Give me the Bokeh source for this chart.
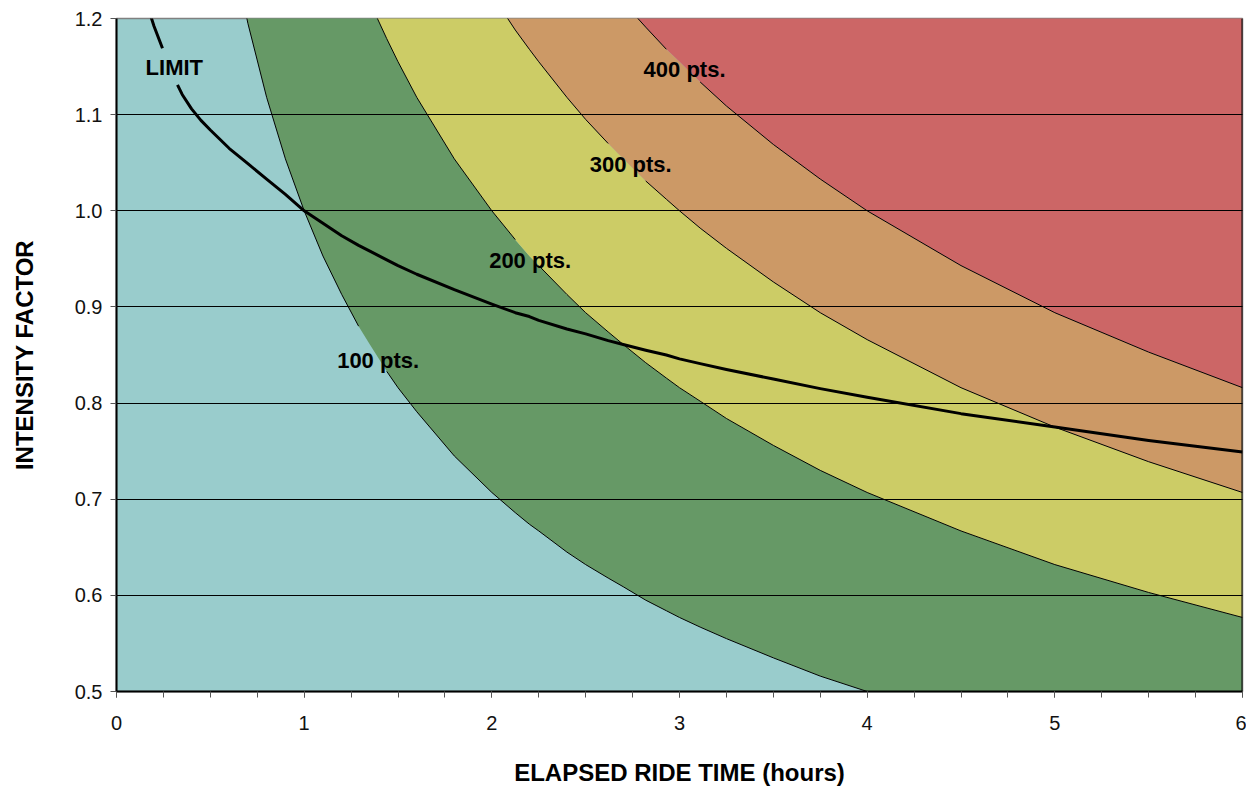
from bokeh.plotting import figure
from bokeh.models import FixedTicker, Span, Range1d
from bokeh.embed import file_html
from bokeh.resources import INLINE
from bokeh.core.properties import value

# ---- data ----
hours = [0.15, 0.2, 0.245, 0.3, 0.325, 0.35, 0.4, 0.45, 0.5, 0.6, 0.7, 0.8, 0.9, 1.0, 1.1, 1.2,
         1.29, 1.35, 1.44, 1.5, 1.6, 1.8, 2.0, 2.125, 2.2, 2.25, 2.4, 2.5, 2.62, 2.7,
         2.82, 2.93, 3.0, 3.11, 3.25, 3.5, 3.75, 4.0, 4.5, 5.0, 5.5, 6.0]

pts100 = [2.582, 2.236, 2.020, 1.826, 1.754, 1.690, 1.581, 1.491, 1.414, 1.291, 1.195, 1.118,
          1.054, 1.000, 0.953, 0.913, 0.880, 0.861, 0.833, 0.816, 0.791, 0.745, 0.707, 0.686,
          0.674, 0.667, 0.645, 0.632, 0.618, 0.609, 0.595, 0.584, 0.577, 0.567, 0.555, 0.535,
          0.516, 0.500, 0.471, 0.447, 0.426, 0.408]

pts200 = [3.651, 3.162, 2.857, 2.582, 2.481, 2.390, 2.236, 2.108, 2.000, 1.826, 1.690, 1.581,
          1.491, 1.414, 1.348, 1.291, 1.245, 1.217, 1.179, 1.155, 1.118, 1.054, 1.000, 0.970,
          0.953, 0.943, 0.913, 0.894, 0.874, 0.861, 0.842, 0.826, 0.816, 0.802, 0.784, 0.756,
          0.730, 0.707, 0.667, 0.632, 0.603, 0.577]

pts300 = [4.472, 3.873, 3.499, 3.162, 3.038, 2.928, 2.739, 2.582, 2.449, 2.236, 2.070, 1.936,
          1.826, 1.732, 1.651, 1.581, 1.525, 1.491, 1.443, 1.414, 1.369, 1.291, 1.225, 1.188,
          1.168, 1.155, 1.118, 1.095, 1.070, 1.054, 1.031, 1.012, 1.000, 0.982, 0.961, 0.926,
          0.894, 0.866, 0.816, 0.775, 0.739, 0.707]

pts400 = [5.164, 4.472, 4.041, 3.651, 3.508, 3.381, 3.162, 2.981, 2.828, 2.582, 2.390, 2.236,
          2.108, 2.000, 1.907, 1.826, 1.761, 1.721, 1.667, 1.633, 1.581, 1.491, 1.414, 1.372,
          1.348, 1.333, 1.291, 1.265, 1.236, 1.217, 1.191, 1.168, 1.155, 1.134, 1.109, 1.069,
          1.033, 1.000, 0.943, 0.894, 0.853, 0.816]

limit = [1.222, 1.192, 1.169, 1.142, 1.131, 1.121, 1.106, 1.094, 1.084, 1.065, 1.049, 1.033,
         1.017, 1.000, 0.987, 0.974, 0.964, 0.958, 0.949, 0.943, 0.934, 0.918, 0.903, 0.894,
         0.890, 0.886, 0.877, 0.872, 0.865, 0.861, 0.855, 0.850, 0.846, 0.841, 0.835, 0.825,
         0.815, 0.806, 0.789, 0.775, 0.761, 0.749]

label_text = ["LIMIT", "100 pts.", "200 pts.", "300 pts.", "400 pts."]
label_x = [0.308, 1.394, 2.204, 2.740, 3.027]
label_y = [1.149, 0.844, 0.948, 1.048, 1.147]

x_ticks = [0, 1, 2, 3, 4, 5, 6]
x_minor = [i * 0.25 for i in range(25)]
y_ticks = [0.5, 0.6, 0.7, 0.8, 0.9, 1.0, 1.1, 1.2]
y_tick_labels = ["0.5", "0.6", "0.7", "0.8", "0.9", "1.0", "1.1", "1.2"]
grid_ticks = [0.6, 0.7, 0.8, 0.9, 1.0, 1.1]

# ---- style ----
FONT = "'Liberation Sans Narrow', 'Arial Narrow', 'Liberation Sans', sans-serif"
TEAL, GREEN, YELLOW, ORANGE, RED = "#99CCCC", "#669966", "#CCCC66", "#CC9966", "#CC6666"

p = figure(frame_width=1126, frame_height=673,
           x_range=Range1d(0, 6), y_range=Range1d(0.5, 1.2),
           output_backend="svg", toolbar_location=None,
           min_border_left=116, min_border_top=18, min_border_bottom=95, min_border_right=4)
p.background_fill_color = TEAL
p.border_fill_color = "white"
p.outline_line_color = "#808080"
p.outline_line_width = 1.5

# bands
p.varea(x=hours, y1=pts100, y2=pts200, fill_color=GREEN)
p.varea(x=hours, y1=pts200, y2=pts300, fill_color=YELLOW)
p.varea(x=hours, y1=pts300, y2=pts400, fill_color=ORANGE)
p.varea(x=hours, y1=pts400, y2=9.0, fill_color=RED)

# grid over the fills
p.xgrid.visible = False
p.ygrid.ticker = FixedTicker(ticks=grid_ticks)
p.ygrid.grid_line_color = "black"
p.ygrid.grid_line_width = 1
p.ygrid.level = "annotation"


def gapped(ys, lo, hi):
    return [float("nan") if lo < h < hi else y for h, y in zip(hours, ys)]


p.line(hours, gapped(pts100, 1.29, 1.44), line_color="black", line_width=1)
p.line(hours, gapped(pts200, 2.125, 2.25), line_color="black", line_width=1)
p.line(hours, gapped(pts300, 2.62, 2.82), line_color="black", line_width=1)
p.line(hours, gapped(pts400, 2.93, 3.11), line_color="black", line_width=1)
p.line(hours, gapped(limit, 0.245, 0.325), line_color="black", line_width=3,
       line_join="round")

p.text(x=label_x, y=label_y, text=label_text, text_align="center", text_baseline="middle",
       text_font=value(FONT), text_font_style="bold", text_font_size="22px", text_color="black")

p.add_layout(Span(location=6, dimension="height", line_color="black", line_width=2))

# axes
xa = p.xaxis[0]
xa.ticker = FixedTicker(ticks=x_ticks, minor_ticks=x_minor)
xa.axis_label = "ELAPSED RIDE TIME (hours)"
ya = p.yaxis[0]
ya.ticker = FixedTicker(ticks=y_ticks)
ya.major_label_overrides = {t: s for t, s in zip(y_ticks, y_tick_labels)}
ya.axis_label = "INTENSITY FACTOR"

for ax in (xa, ya):
    ax.axis_line_color = "black"
    ax.axis_line_width = 2
    ax.major_tick_line_color = "#555555"
    ax.minor_tick_line_color = "#555555"
    ax.major_tick_out = 6
    ax.major_tick_in = 0
    ax.minor_tick_out = 6
    ax.minor_tick_in = 0
    ax.major_label_text_font = FONT
    ax.major_label_text_font_size = "20px"
    ax.major_label_text_color = "#111111"
    ax.axis_label_text_font = FONT
    ax.axis_label_text_font_style = "bold"
    ax.axis_label_text_font_size = "24px"
    ax.axis_label_text_color = "black"

ya.minor_tick_out = 0
xa.major_label_standoff = 18
xa.axis_label_standoff = 26
ya.major_label_standoff = 8
ya.axis_label_standoff = 34

open("out.html", "w").write(file_html(p, INLINE))
